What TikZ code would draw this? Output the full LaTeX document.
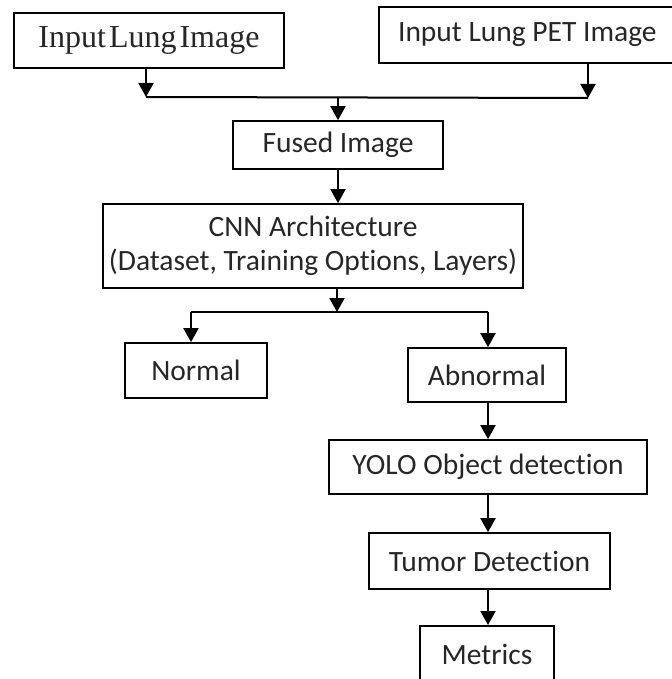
\documentclass[tikz,border=0pt]{standalone}
\usepackage{fontspec}
\setmainfont{Carlito}[Ligatures={NoCommon}]
\newfontfamily\serifbox{Liberation Serif}
\usetikzlibrary{arrows.meta}
\begin{document}
\begin{tikzpicture}[x=1pt,y=-1pt,
  box/.style={draw, line width=1.7pt, inner sep=0pt, align=center,
    font=\fontsize{29.5pt}{34pt}\selectfont, text=black!85},
  arr/.style={line width=2pt, -{Triangle[width=15pt,length=14pt]}},
  ln/.style={line width=2pt}]
\useasboundingbox (0,0) rectangle (671,679);
% boxes
\node[box, minimum width=270pt, minimum height=55pt, font=\serifbox\fontsize{32pt}{34pt}\selectfont] (in1) at (149,40.5) {\spaceskip=3pt\relax Input Lung Image};
\node[box, minimum width=297pt, minimum height=56pt, anchor=north west] (in2) at (378,6) {Input Lung PET Image};
\node[box, minimum width=210pt, minimum height=48pt] (fused) at (338,145) {Fused Image};
\node[box, minimum width=420pt, minimum height=84pt] (cnn) at (313,246) {CNN Architecture\\(Dataset, Training Options, Layers)};
\node[box, minimum width=142pt, minimum height=55pt] (normal) at (196,370.5) {Normal};
\node[box, minimum width=158pt, minimum height=54pt] (abn) at (487,375) {Abnormal};
\node[box, minimum width=318pt, minimum height=54pt] (yolo) at (488,467) {YOLO Object detection};
\node[box, minimum width=241pt, minimum height=56pt] (tumor) at (489.5,561) {Tumor Detection};
\node[box, minimum width=134pt, minimum height=58pt, anchor=north] (met) at (487,625) {Metrics};
% junction coordinates
\coordinate (j1) at (146,97);
\coordinate (j2) at (588,98);
\coordinate (jm) at (338,97.5);
\coordinate (k1) at (191,312);
\coordinate (k2) at (488,312);
\coordinate (km) at (337,312);
% connectors
\draw[arr] (in1.south -| j1) -- (j1);
\draw[arr] (in2.south -| j2) -- (j2);
\draw[ln] (j1) -- (j2);
\draw[arr] (jm) -- (jm |- fused.north);
\draw[arr] (fused.south -| jm) -- (jm |- cnn.north);
\draw[arr] (cnn.south -| km) -- (km);
\draw[ln] (k1) -- (k2);
\draw[arr] (k1) -- (k1 |- normal.north);
\draw[arr] (k2) -- (k2 |- abn.north);
\draw[arr] (abn.south -| k2) -- (k2 |- yolo.north);
\draw[arr] (yolo.south -| k2) -- (k2 |- tumor.north);
\draw[arr] (tumor.south -| k2) -- (k2 |- met.north);
\end{tikzpicture}
\end{document}
